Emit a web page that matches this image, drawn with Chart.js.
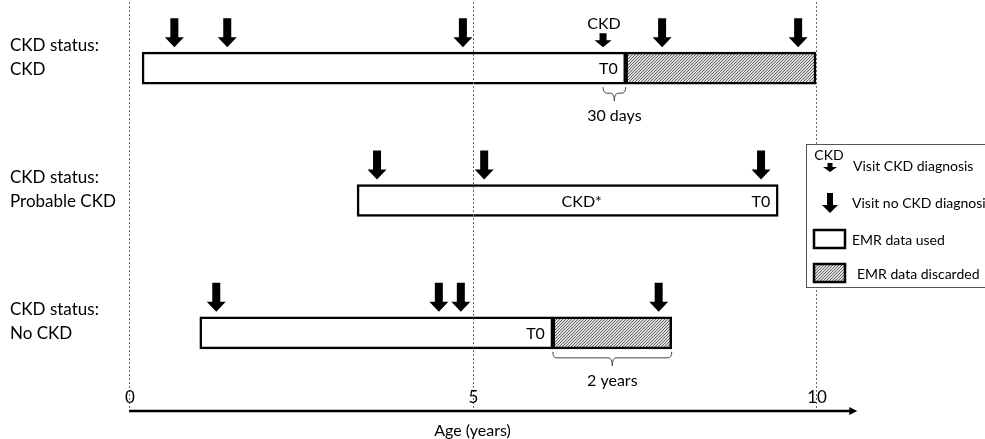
<!DOCTYPE html>
<html><head><meta charset="utf-8">
<script src="https://cdn.jsdelivr.net/npm/chart.js@4/dist/chart.umd.min.js"></script>
<style>html,body{margin:0;padding:0;background:#fff}#wrap{width:985px;height:439px;position:relative}</style>
</head><body><div id="wrap"><canvas id="c"></canvas></div>
<script>
// ---- data ----
const rows = ['CKD', 'Probable CKD', 'No CKD'];
const rowLabels = [['CKD status:', 'CKD'], ['CKD status:', 'Probable CKD'], ['CKD status:', 'No CKD']];
const usedStart = [0.19, 3.32, 1.03];
const t0 = [7.23, 9.45, 6.17];
const discardedEnd = [10.0, null, 7.9];
const visitsNoCkd = [[0.66, 1.43, 4.86, 7.76, 9.74], [3.61, 5.17, 9.2], [1.27, 4.51, 4.83, 7.71]];
const visitsCkd = [[6.9], [], []];
const midLabels = [null, {x: 6.59, text: 'CKD*'}, null];
const braces = [{row: 0, from: 6.9, to: 7.23, text: '30 days'}, {row: 2, from: 6.17, to: 7.9, text: '2 years'}];
const xTicks = [0, 5, 10];
const axisEnd = 10.6;
const axisTitle = 'Age (years)';
const legendItems = ['Visit CKD diagnosis', 'Visit no CKD diagnosis', 'EMR data used', 'EMR data discarded'];

const FONT = 'Lato, "Open Sans", sans-serif';

function makeHatch(){
  const c = document.createElement('canvas');
  c.width = 3; c.height = 3;
  const g = c.getContext('2d');
  g.fillStyle = '#dcdcdc'; g.fillRect(0,0,3,3);
  g.fillStyle = '#6a6a6a';
  g.fillRect(2,0,1,1); g.fillRect(1,1,1,1); g.fillRect(0,2,1,1);
  return document.getElementById('c').getContext('2d').createPattern(c, 'repeat');
}
const hatch = makeHatch();

function bigArrow(ctx, x, tip, h, hw, sw, hh){
  ctx.beginPath();
  ctx.moveTo(x - sw/2, tip - h);
  ctx.lineTo(x + sw/2, tip - h);
  ctx.lineTo(x + sw/2, tip - hh);
  ctx.lineTo(x + hw, tip - hh);
  ctx.lineTo(x, tip);
  ctx.lineTo(x - hw, tip - hh);
  ctx.lineTo(x - sw/2, tip - hh);
  ctx.closePath();
  ctx.fillStyle = '#000';
  ctx.fill();
}
function brace(ctx, x1, x2, top, h, s){
  const mid = (x1 + x2)/2, r = Math.min(4, (x2-x1)/4);
  ctx.beginPath();
  ctx.moveTo(x1, top);
  ctx.quadraticCurveTo(x1, top+h, x1+r, top+h);
  ctx.lineTo(mid - r, top+h);
  ctx.quadraticCurveTo(mid, top+h, mid, top+h+s);
  ctx.quadraticCurveTo(mid, top+h, mid + r, top+h);
  ctx.lineTo(x2 - r, top+h);
  ctx.quadraticCurveTo(x2, top+h, x2, top);
  ctx.strokeStyle = '#444'; ctx.lineWidth = 1;
  ctx.stroke();
}

const BAR_T = 32;
const overlay = {
  id: 'overlay',
  afterDatasetsDraw(chart){
    const ctx = chart.ctx, xs = chart.scales.x, ys = chart.scales.y;
    ctx.save();
    // dotted grid lines
    ctx.strokeStyle = '#666'; ctx.lineWidth = 1; ctx.setLineDash([2,2]);
    xTicks.forEach(t => {
      const px = Math.round(xs.getPixelForValue(t)) + 0.5;
      ctx.beginPath(); ctx.moveTo(px, 2); ctx.lineTo(px, 408); ctx.stroke();
    });
    ctx.setLineDash([]);
    // row labels
    ctx.fillStyle = '#000'; ctx.font = '17px ' + FONT; ctx.textBaseline = 'middle'; ctx.textAlign = 'left';
    rows.forEach((r, i) => {
      const cy = ys.getPixelForValue(i);
      ctx.fillText(rowLabels[i][0], 10, cy - 23);
      ctx.fillText(rowLabels[i][1], 10, cy + 1);
    });
    // arrows
    rows.forEach((r, i) => {
      const cy = ys.getPixelForValue(i);
      const tip = cy - BAR_T/2 - 5;
      visitsNoCkd[i].forEach(v => bigArrow(ctx, xs.getPixelForValue(v), tip, 29, 9.5, 8, 10));
      visitsCkd[i].forEach(v => {
        const px = xs.getPixelForValue(v);
        bigArrow(ctx, px, tip, 14, 8.5, 7, 7);
        ctx.fillStyle = '#000'; ctx.font = '16px ' + FONT; ctx.textAlign = 'center';
        ctx.fillText('CKD', px + 1, tip - 23);
      });
      // T0 label
      ctx.fillStyle = '#000'; ctx.font = '16px ' + FONT; ctx.textAlign = 'right';
      ctx.fillText('T0', xs.getPixelForValue(t0[i]) - 8, cy + 1);
      if (midLabels[i]) { ctx.textAlign = 'center'; ctx.fillText(midLabels[i].text, xs.getPixelForValue(midLabels[i].x), cy + 1); }
    });
    // braces
    braces.forEach(b => {
      const cy = ys.getPixelForValue(b.row);
      const top = cy + BAR_T/2 + 3;
      const x1 = xs.getPixelForValue(b.from), x2 = xs.getPixelForValue(b.to);
      brace(ctx, x1, x2, top, 6, 8);
      ctx.fillStyle = '#000'; ctx.font = '16px ' + FONT; ctx.textAlign = 'center';
      ctx.fillText(b.text, (x1+x2)/2, top + 29);
    });
    // axis
    const ay = 411;
    const ax0 = xs.getPixelForValue(0), ax1 = xs.getPixelForValue(axisEnd);
    ctx.strokeStyle = '#000'; ctx.lineWidth = 2.5;
    ctx.beginPath(); ctx.moveTo(ax0, ay); ctx.lineTo(ax1 - 6, ay); ctx.stroke();
    ctx.beginPath(); ctx.moveTo(ax1, ay); ctx.lineTo(ax1 - 8, ay - 4); ctx.lineTo(ax1 - 8, ay + 4); ctx.closePath(); ctx.fillStyle = '#000'; ctx.fill();
    ctx.font = '17px ' + FONT; ctx.textAlign = 'center'; ctx.textBaseline = 'middle';
    xTicks.forEach(t => ctx.fillText(String(t), xs.getPixelForValue(t) + 1, 398));
    ctx.font = '16px ' + FONT;
    ctx.fillText(axisTitle, xs.getPixelForValue(5), 431);
    // legend
    ctx.fillStyle = '#fff'; ctx.fillRect(806, 144, 200, 143);
    ctx.strokeStyle = '#555'; ctx.lineWidth = 1; ctx.strokeRect(806.5, 144.5, 200, 143);
    ctx.fillStyle = '#000'; ctx.font = '14px ' + FONT; ctx.textAlign = 'center';
    ctx.fillText('CKD', 829, 155);
    bigArrow(ctx, 830, 172, 9, 7, 5, 5);
    bigArrow(ctx, 830, 213, 20, 8, 6, 8);
    ctx.lineWidth = 2.5; ctx.strokeStyle = '#000';
    ctx.fillStyle = '#fff'; ctx.fillRect(814, 230, 31, 18); ctx.strokeRect(814, 230, 31, 18);
    ctx.fillStyle = hatch; ctx.fillRect(814, 264, 31, 18); ctx.strokeRect(814, 264, 31, 18);
    ctx.fillStyle = '#000'; ctx.font = '14px ' + FONT; ctx.textAlign = 'left';
    ctx.fillText(legendItems[0], 853, 166);
    ctx.fillText(legendItems[1], 852, 203);
    ctx.fillText(legendItems[2], 852, 240);
    ctx.fillText(legendItems[3], 857, 274);
    ctx.restore();
  }
};

new Chart(document.getElementById('c'), {
  type: 'bar',
  data: {
    labels: rows,
    datasets: [
      { label: 'EMR data used', data: rows.map((r, i) => [usedStart[i], t0[i]]), backgroundColor: '#fff', borderColor: '#000', borderWidth: 2.5, borderSkipped: false, barThickness: BAR_T, grouped: false },
      { label: 'EMR data discarded', data: rows.map((r, i) => discardedEnd[i] == null ? null : [t0[i], discardedEnd[i]]), backgroundColor: hatch, borderColor: '#000', borderWidth: 2.5, borderSkipped: false, barThickness: BAR_T, grouped: false }
    ]
  },
  options: {
    indexAxis: 'y',
    responsive: true, maintainAspectRatio: false, animation: false,
    layout: { padding: { top: 2, bottom: 40, left: 0, right: 0 } },
    plugins: { legend: { display: false }, tooltip: { enabled: false } },
    scales: {
      x: { type: 'linear', min: -1.878, max: 12.46, display: false },
      y: { type: 'category', display: false, offset: true }
    }
  },
  plugins: [overlay]
});
</script>
</body></html>
